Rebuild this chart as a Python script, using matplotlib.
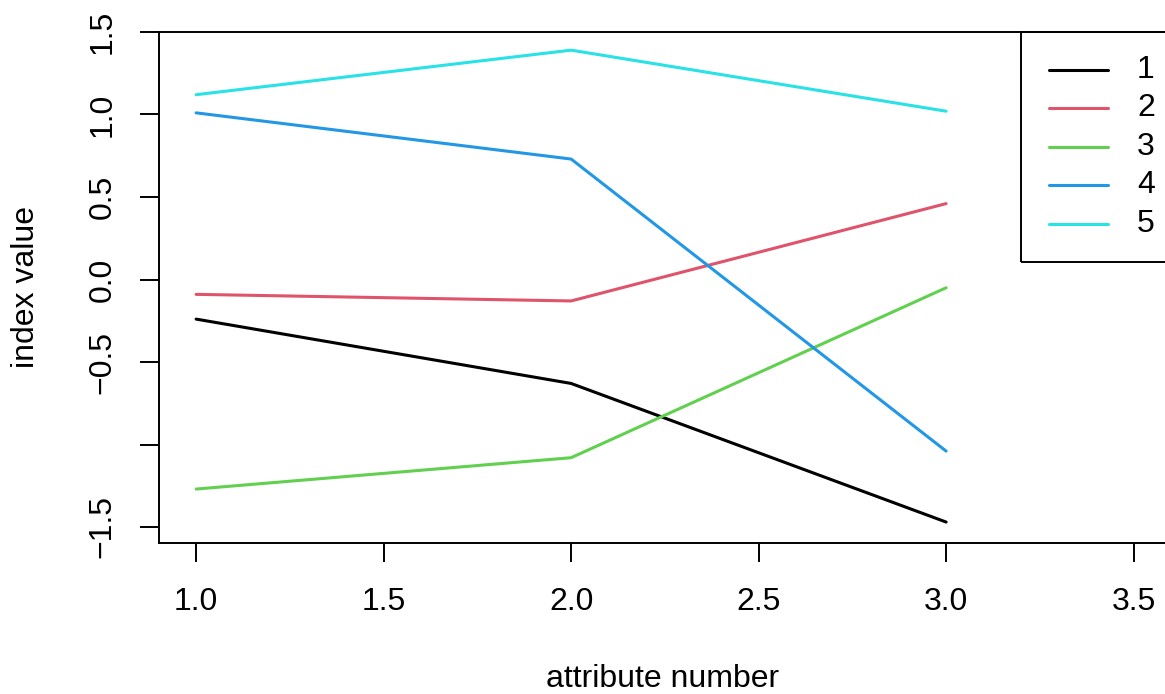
import matplotlib
matplotlib.use("Agg")
import matplotlib.pyplot as plt
from matplotlib.patches import Rectangle
from matplotlib.lines import Line2D

plt.rcParams['font.family'] = ['Liberation Sans', 'DejaVu Sans']

# data
attributes = [1, 2, 3]
series_names = ["1", "2", "3", "4", "5"]
series_values = [
    [-0.24, -0.63, -1.47],
    [-0.09, -0.13, 0.46],
    [-1.27, -1.08, -0.05],
    [1.01, 0.73, -1.04],
    [1.12, 1.39, 1.02],
]
colors = ["#000000", "#DF536B", "#61D04F", "#2297E6", "#28E2E5"]
x_ticks = [1.0, 1.5, 2.0, 2.5, 3.0, 3.5]
y_ticks = [-1.5, -1.0, -0.5, 0.0, 0.5, 1.0, 1.5]
y_tick_labels = ["\u22121.5", "", "\u22120.5", "0.0", "0.5", "1.0", "1.5"]

W, H = 1165, 694
FS = 23
fig = plt.figure(figsize=(W / 100, H / 100), dpi=100)

# axes box in pixels
left, right, top, bottom = 159, 1175, 32, 543
ax = fig.add_axes([left / W, 1 - bottom / H, (right - left) / W, (bottom - top) / H])

for vals, c in zip(series_values, colors):
    ax.plot(attributes, vals, color=c, lw=2.2, solid_capstyle='round')

x0 = 0.901
ax.set_xlim(x0, x0 + (right - left) / 375)
ax.set_ylim(-1.5 - 16 / 165, 1.5)

ax.set_xticks(x_ticks)
ax.set_xticklabels([f"{t:.1f}" for t in x_ticks])
ax.set_yticks(y_ticks)
ax.set_yticklabels(y_tick_labels, rotation=90, va='center')

for s in ax.spines.values():
    s.set_linewidth(1.4)
ax.tick_params(direction='out', length=14, width=1.4, labelsize=FS, pad=18)
ax.tick_params(axis='y', pad=16)

fig.text(26 / W, 1 - 287 / H, "index value", rotation=90, ha='center', va='center', fontsize=FS)
fig.text(663 / W, 1 - 679 / H, "attribute number", ha='center', va='center', fontsize=FS)

# legend drawn in pixel positions, as in the reference
fig.patches.append(Rectangle((1021 / W, 1 - 262 / H), 200 / W, 230 / H,
                             transform=fig.transFigure, fill=False, lw=1.4, ec='black'))
legend_y = [70, 108, 147, 185, 224]
for name, c, yy in zip(series_names, colors, legend_y):
    fig.lines.append(Line2D([1049 / W, 1108 / W], [1 - yy / H] * 2, transform=fig.transFigure,
                            color=c, lw=2.2, solid_capstyle='round'))
    fig.text(1137 / W, 1 - yy / H, name, ha='left', va='center', fontsize=FS)

fig.savefig("out.png", dpi=100)
